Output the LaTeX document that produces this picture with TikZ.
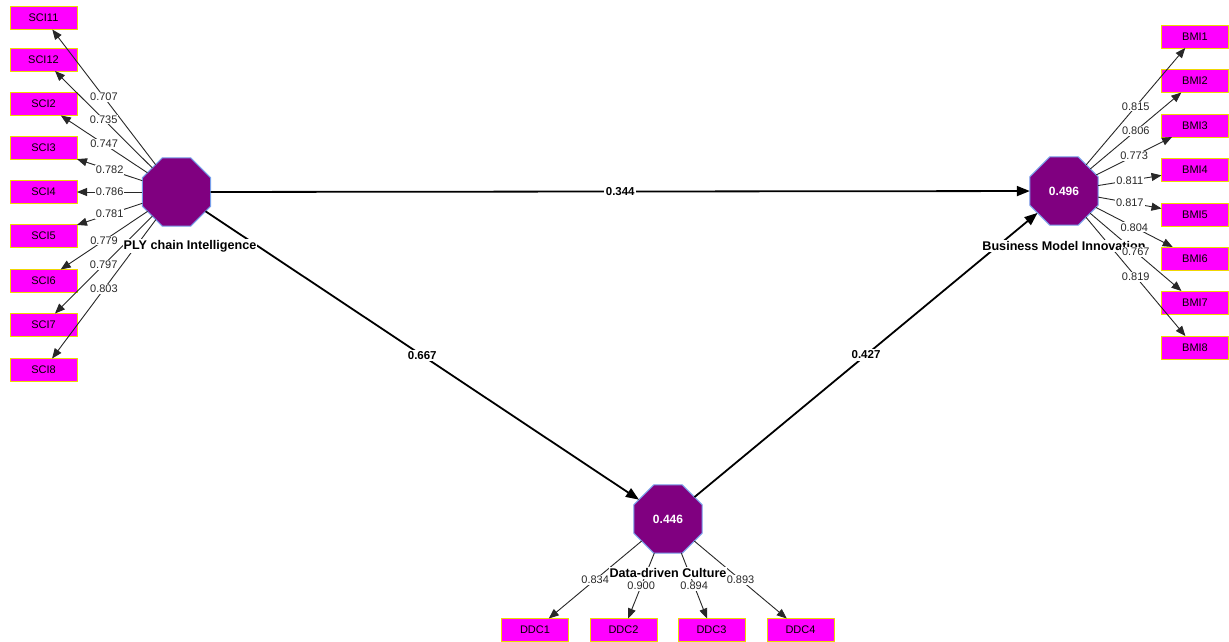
\documentclass[tikz,border=0pt]{standalone}
\usepackage{fontspec}
\setmainfont{Liberation Sans}
\usetikzlibrary{shapes.geometric,arrows.meta}
\definecolor{ind}{RGB}{255,0,255}
\definecolor{indb}{RGB}{240,215,0}
\definecolor{lat}{RGB}{128,0,128}
\definecolor{latb}{RGB}{120,160,235}
\definecolor{lod}{RGB}{40,40,40}
\tikzset{
 indbox/.style={rectangle,fill=ind,draw=indb,line width=0.9pt,minimum width=67pt,minimum height=23pt,inner sep=0pt,outer sep=0pt,font=\fontsize{11}{11}\selectfont},
 latent/.style={regular polygon,regular polygon sides=8,fill=lat,draw=latb,line width=1pt,minimum size=74pt,inner sep=0pt,outer sep=0pt,text=white,font=\bfseries\fontsize{12}{12}\selectfont},
 latname/.style={fill=white,inner sep=1pt,font=\bfseries\fontsize{12.6}{12.6}\selectfont},
 loadline/.style={draw=lod,line width=0.9pt,-{Triangle[length=10pt,width=8pt]}},
 loadlab/.style={fill=white,inner sep=1pt,text=lod,font=\fontsize{11}{11}\selectfont},
 pathline/.style={draw=black,line width=1.8pt,-{Triangle[length=13pt,width=10pt]}},
 pathlab/.style={midway,fill=white,inner sep=1.5pt,font=\bfseries\fontsize{11.5}{11.5}\selectfont},
}
\begin{document}
\begin{tikzpicture}[x=1pt,y=-1pt]
\useasboundingbox (0,0) rectangle (1229,641);
\fill[white] (0,0) rectangle (1229,641);

% latent variables
\node[latent] (sci) at (176.5,192) {};
\node[latent] (bmi) at (1064,191) {0.496};
\node[latent] (ddc) at (668,519) {0.446};

% indicators
\foreach \n/\y in {SCI11/18,SCI12/59.5,SCI2/104,SCI3/148,SCI4/192,SCI5/236,SCI6/281,SCI7/325,SCI8/370}
  \node[indbox] (\n) at (43.5,\y) {\n};
\foreach \n/\y in {BMI1/36.5,BMI2/81,BMI3/125.5,BMI4/170,BMI5/214.5,BMI6/258.5,BMI7/302.5,BMI8/347.5}
  \node[indbox] (\n) at (1195,\y) {\n};
\foreach \n/\x in {DDC1/535,DDC2/623.5,DDC3/711.5,DDC4/800.5}
  \node[indbox] (\n) at (\x,630) {\n};

% loading lines
\foreach \n in {SCI11,SCI12,SCI2,SCI3,SCI4,SCI5,SCI6,SCI7,SCI8}
  \draw[loadline] (sci) -- coordinate[midway] (m-\n) (\n);
\foreach \n in {BMI1,BMI2,BMI3,BMI4,BMI5,BMI6,BMI7,BMI8}
  \draw[loadline] (bmi) -- coordinate[midway] (m-\n) (\n);
\foreach \n in {DDC1,DDC2,DDC3,DDC4}
  \draw[loadline] (ddc) -- coordinate[midway] (m-\n) (\n);

% structural paths
\draw[pathline] (sci) -- node[pathlab] {0.344} (bmi);
\draw[pathline] (sci) -- node[pathlab] {0.667} (ddc);
\draw[pathline] (ddc) -- node[pathlab] {0.427} (bmi);

% latent names
\node[latname] (sciname) at (190,246) {PLY chain Intelligence};
\node[latname] (bminame) at (1064,246) {Business Model Innovation};
\node[latname] (ddcname) at (668,573) {Data-driven Culture};

% loading labels
\foreach \n/\v in {SCI11/0.707,SCI12/0.735,SCI2/0.747,SCI3/0.782,SCI4/0.786,SCI5/0.781,SCI6/0.779,SCI7/0.797,SCI8/0.803,
  BMI1/0.815,BMI2/0.806,BMI3/0.773,BMI4/0.811,BMI5/0.817,BMI6/0.804,BMI7/0.767,BMI8/0.819,
  DDC1/0.834,DDC2/0.900,DDC3/0.894,DDC4/0.893}
  \node[loadlab] (l-\n) at (m-\n) {\v};
\end{tikzpicture}
\end{document}
